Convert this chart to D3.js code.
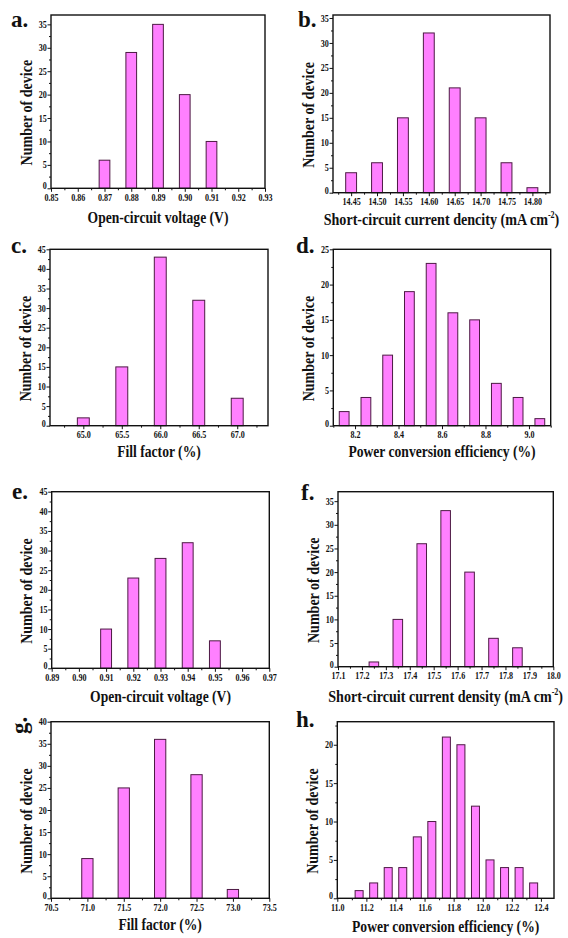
<!DOCTYPE html>
<html>
<head>
<meta charset="utf-8">
<script src="https://cdn.jsdelivr.net/npm/d3@7"></script>
<style>
  html, body { margin: 0; padding: 0; background: #fff; }
  svg { display: block; }
  text { font-family: "Liberation Serif", "Times New Roman", serif; font-weight: bold; fill: #111; }
</style>
</head>
<body>
<svg id="fig" width="568" height="938"></svg>
<script>
// ---- Device statistics (bin centres and counts) ----
// a: open-circuit voltage, device set 1
const vocBins1 = [0.87, 0.88, 0.89, 0.90, 0.91];
const vocCounts1 = [6, 29, 35, 20, 10];
const vocTicks1 = ["0.85", "0.86", "0.87", "0.88", "0.89", "0.90", "0.91", "0.92", "0.93"];

// b: short-circuit current density, device set 1
const jscBins1 = [14.45, 14.50, 14.55, 14.60, 14.65, 14.70, 14.75, 14.80];
const jscCounts1 = [4, 6, 15, 32, 21, 15, 6, 1];
const jscTicks1 = ["14.45", "14.50", "14.55", "14.60", "14.65", "14.70", "14.75", "14.80"];

// c: fill factor, device set 1
const ffBins1 = [65.0, 65.5, 66.0, 66.5, 67.0];
const ffCounts1 = [2, 15, 43, 32, 7];
const ffTicks1 = ["65.0", "65.5", "66.0", "66.5", "67.0"];

// d: power conversion efficiency, device set 1
const pceBins1 = [8.15, 8.25, 8.35, 8.45, 8.55, 8.65, 8.75, 8.85, 8.95, 9.05];
const pceCounts1 = [2, 4, 10, 19, 23, 16, 15, 6, 4, 1];
const pceTicks1 = ["8.2", "8.4", "8.6", "8.8", "9.0"];

// e: open-circuit voltage, device set 2
const vocBins2 = [0.91, 0.92, 0.93, 0.94, 0.95];
const vocCounts2 = [10, 23, 28, 32, 7];
const vocTicks2 = ["0.89", "0.90", "0.91", "0.92", "0.93", "0.94", "0.95", "0.96", "0.97"];

// f: short-circuit current density, device set 2
const jscBins2 = [17.25, 17.35, 17.45, 17.55, 17.65, 17.75, 17.85];
const jscCounts2 = [1, 10, 26, 33, 20, 6, 4];
const jscTicks2 = ["17.1", "17.2", "17.3", "17.4", "17.5", "17.6", "17.7", "17.8", "17.9", "18.0"];

// g: fill factor, device set 2
const ffBins2 = [71.0, 71.5, 72.0, 72.5, 73.0];
const ffCounts2 = [9, 25, 36, 28, 2];
const ffTicks2 = ["70.5", "71.0", "71.5", "72.0", "72.5", "73.0", "73.5"];

// h: power conversion efficiency, device set 2
const pceBins2 = [11.15, 11.25, 11.35, 11.45, 11.55, 11.65, 11.75, 11.85, 11.95, 12.05, 12.15, 12.25, 12.35];
const pceCounts2 = [1, 2, 4, 4, 8, 10, 21, 20, 12, 5, 4, 4, 2];
const pceTicks2 = ["11.0", "11.2", "11.4", "11.6", "11.8", "12.0", "12.2", "12.4"];

const yTitle = "Number of device";

// ---- Panel layout ----
const panels = [
  { tag: "a.", bins: vocBins1, counts: vocCounts1, ticks: vocTicks1,
    title: ["Open-circuit voltage (V)"],
    box: [51, 265, 15, 188.3], xd: [0.85, 0.93], yd: [0, 37], yStep: 5, yMax: 35,
    barW: 0.004, xMinor: 0.005, tagPos: [11, 27], titleY: 223 },
  { tag: "b.", bins: jscBins1, counts: jscCounts1, ticks: jscTicks1,
    title: ["Short-circuit current dencity (mA cm", "-2", ")"],
    box: [333, 550, 15, 192.7], xd: [14.415, 14.834], yd: [0, 35.6], yStep: 5, yMax: 35,
    barW: 0.021, xMinor: 0.025, tagPos: [298, 27], titleY: 225 },
  { tag: "c.", bins: ffBins1, counts: ffCounts1, ticks: ffTicks1,
    title: ["Fill factor (%)"],
    box: [50, 268, 249.3, 425.7], xd: [64.567, 67.40], yd: [0, 45], yStep: 5, yMax: 45,
    barW: 0.155, xMinor: 0.25, tagPos: [11, 253], titleY: 457 },
  { tag: "d.", bins: pceBins1, counts: pceCounts1, ticks: pceTicks1,
    title: ["Power conversion efficiency (%)"],
    box: [333.3, 550.7, 249.3, 425.7], xd: [8.1, 9.1], yd: [0, 25], yStep: 5, yMax: 25,
    barW: 0.045, xMinor: 0.1, tagPos: [296, 253], titleY: 457 },
  { tag: "e.", bins: vocBins2, counts: vocCounts2, ticks: vocTicks2,
    title: ["Open-circuit voltage (V)"],
    box: [51.7, 269.3, 491.7, 668.3], xd: [0.89, 0.97], yd: [0, 45], yStep: 5, yMax: 45,
    barW: 0.004, xMinor: 0.005, tagPos: [12, 499], titleY: 702 },
  { tag: "f.", bins: jscBins2, counts: jscCounts2, ticks: jscTicks2,
    title: ["Short-circuit current density (mA cm", "-2", ")"],
    box: [338, 553.3, 491.7, 666.7], xd: [17.1, 18.0], yd: [0, 37], yStep: 5, yMax: 35,
    barW: 0.04, xMinor: 0.05, tagPos: [301, 500], titleY: 702 },
  { tag: "g.", bins: ffBins2, counts: ffCounts2, ticks: ffTicks2,
    title: ["Fill factor (%)"],
    box: [51, 269.3, 721.7, 898.3], xd: [70.5, 73.5], yd: [0, 40], yStep: 5, yMax: 40,
    barW: 0.155, xMinor: 0.25, tagPos: [27, 734], tagRot: true, titleY: 930 },
  { tag: "h.", bins: pceBins2, counts: pceCounts2, ticks: pceTicks2,
    title: ["Power conversion efficiency (%)"],
    box: [337.3, 554, 721.7, 898.3], xd: [11.0, 12.49], yd: [0, 23], yStep: 5, yMax: 20,
    barW: 0.055, xMinor: 0.1, tagPos: [296, 727], titleY: 932 }
];

const svg = d3.select("#fig");
const barFill = "#ff80ff";
const barEdge = "#4d1a44";
// the typeface is set slightly condensed
const squeeze = 0.85;

panels.forEach(p => {
  const [L, R, T, B] = p.box;
  const x = d3.scaleLinear().domain(p.xd).range([L, R]);
  const y = d3.scaleLinear().domain(p.yd).range([B, T]);
  const g = svg.append("g");

  // bars
  g.selectAll("rect.bar")
    .data(p.bins.map((b, i) => ({ b, c: p.counts[i] })))
    .join("rect")
    .attr("class", "bar")
    .attr("x", d => x(d.b - p.barW / 2))
    .attr("width", d => x(d.b + p.barW / 2) - x(d.b - p.barW / 2))
    .attr("y", d => y(d.c))
    .attr("height", d => y(0) - y(d.c))
    .attr("fill", barFill)
    .attr("stroke", barEdge)
    .attr("stroke-width", 1);

  // x axis: labelled major ticks and unlabelled minor ticks
  const majors = p.ticks.map(Number);
  const xAxis = d3.axisBottom(x).tickValues(majors)
    .tickFormat((d, i) => p.ticks[i]).tickSize(3.5).tickPadding(2.5).tickSizeOuter(0);
  const gx = g.append("g").attr("transform", `translate(0,${B})`).call(xAxis);
  gx.select(".domain").remove();
  gx.selectAll("text").attr("font-size", 9.5).attr("fill", "#111")
    .attr("transform", `scale(${squeeze},1)`);
  gx.selectAll("line").attr("stroke", "#111").attr("stroke-width", 1);

  const minorX = d3.range(Math.ceil((p.xd[0] - 1e-9) / p.xMinor), Math.floor((p.xd[1] + 1e-9) / p.xMinor) + 1)
    .map(k => +(k * p.xMinor).toFixed(4))
    .filter(v => !majors.some(m => Math.abs(m - v) < 1e-6));
  const gxm = g.append("g").attr("transform", `translate(0,${B})`)
    .call(d3.axisBottom(x).tickValues(minorX).tickFormat("").tickSize(2).tickSizeOuter(0));
  gxm.select(".domain").remove();
  gxm.selectAll("line").attr("stroke", "#111");

  // y axis
  const yMajors = d3.range(0, p.yMax + 0.001, p.yStep);
  const yAxis = d3.axisLeft(y).tickValues(yMajors).tickFormat(d3.format("d"))
    .tickSize(3.5).tickPadding(1.5).tickSizeOuter(0);
  const gy = g.append("g").attr("transform", `translate(${L},0)`).call(yAxis);
  gy.select(".domain").remove();
  gy.selectAll("text").attr("font-size", 9.5).attr("fill", "#111")
    .attr("transform", `scale(${squeeze},1)`);
  // the zero label sits just above the corner so it clears the first x label
  gy.selectAll(".tick").filter(d => d === 0).select("text").attr("dy", "0.05em");
  gy.selectAll("line").attr("stroke", "#111");

  const yMinors = d3.range(p.yStep / 2, p.yd[1], p.yStep);
  const gym = g.append("g").attr("transform", `translate(${L},0)`)
    .call(d3.axisLeft(y).tickValues(yMinors).tickFormat("").tickSize(2).tickSizeOuter(0));
  gym.select(".domain").remove();
  gym.selectAll("line").attr("stroke", "#111");

  // frame
  g.append("rect").attr("x", L).attr("y", T).attr("width", R - L).attr("height", B - T)
    .attr("fill", "none").attr("stroke", "#111").attr("stroke-width", 1.4);

  // axis titles
  const xt = g.append("text")
    .attr("transform", `translate(${(L + R) / 2},${p.titleY}) scale(${squeeze},1)`)
    .attr("text-anchor", "middle").attr("font-size", p.title.length > 1 ? 16.6 : 16);
  xt.append("tspan").text(p.title[0]);
  if (p.title.length > 1) {
    xt.append("tspan").attr("font-size", 9.5).attr("dy", -7).text(p.title[1]);
    xt.append("tspan").attr("dy", 7).text(p.title[2]);
  }

  g.append("text")
    .attr("transform", `translate(${L - 19.5},${(T + B) / 2 + 11}) rotate(-90) scale(${squeeze},1)`)
    .attr("text-anchor", "middle").attr("font-size", 16.5).text(yTitle);

  // panel tag
  const tag = g.append("text").attr("font-size", 23).text(p.tag);
  if (p.tagRot) {
    tag.attr("transform", `translate(${p.tagPos[0]},${p.tagPos[1]}) rotate(-90)`);
  } else {
    tag.attr("x", p.tagPos[0]).attr("y", p.tagPos[1]);
  }
});
</script>
</body>
</html>
